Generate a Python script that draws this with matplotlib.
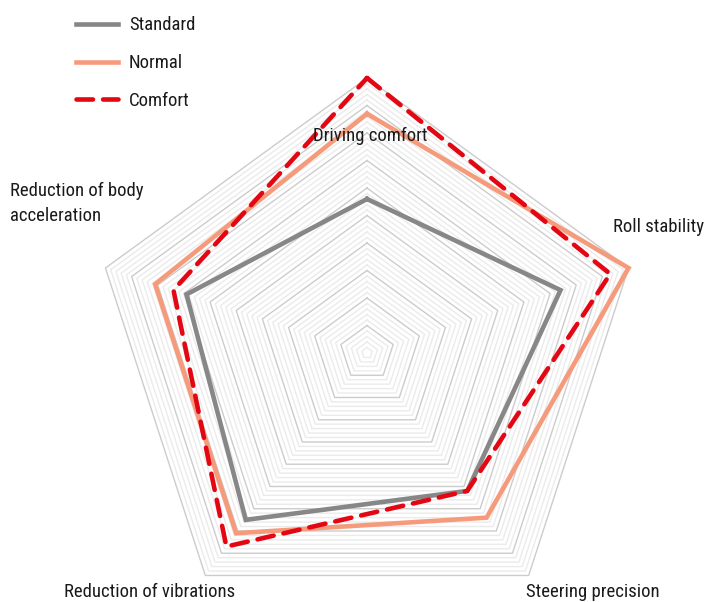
import numpy as np
import matplotlib
matplotlib.use("Agg")
import matplotlib.pyplot as plt
from matplotlib.font_manager import fontManager

categories = ["Driving comfort", "Roll stability", "Steering precision",
              "Reduction of vibrations", "Reduction of body\nacceleration"]
standard = [56, 74, 62, 75, 69]
normal = [87, 100, 74, 81, 81]
comfort = [100, 93, 62, 87, 74]
series_names = ["Standard", "Normal", "Comfort"]

names = {f.name for f in fontManager.ttflist}
stretch_names = {(f.name, f.stretch) for f in fontManager.ttflist}
fam = None
stretch = "normal"
for cand in ["Roboto Condensed", "Liberation Sans Narrow", "Open Sans Condensed",
             "Noto Sans Condensed", "DejaVu Sans Condensed"]:
    if cand in names:
        fam = cand
        break
if fam is None:
    for cand in ["Roboto", "Noto Sans", "Open Sans", "DejaVu Sans"]:
        cond = [st for (nm, st) in stretch_names if nm == cand and st not in ("normal", 500)]
        if cond:
            fam = cand
            stretch = "condensed"
            break
if fam is None:
    fam = "DejaVu Sans"
plt.rcParams["font.family"] = [fam, "DejaVu Sans"]
plt.rcParams["font.stretch"] = stretch

W, H = 706, 602
cx, cy, R = 367, 353, 275  # pixels
fig = plt.figure(figsize=(W / 100, H / 100), dpi=100)
ax = fig.add_axes([0, 0, 1, 1])
s = R / 100.0
ax.set_xlim(-cx / s, (W - cx) / s)
ax.set_ylim(-(H - cy) / s, cy / s)
ax.axis("off")

n = len(categories)
ang = np.deg2rad(90 - 72 * np.arange(n))

def poly(vals):
    v = np.asarray(vals, float)
    x = v * np.cos(ang)
    y = v * np.sin(ang)
    return np.append(x, x[0]), np.append(y, y[0])

# grid
for k in range(1, 51):
    lvl = k * 2
    x, y = poly([lvl] * n)
    dark = (k % 5 == 0)
    ax.plot(x, y, color="#cccccc" if dark else "#ebebeb", lw=1.0, zorder=1)

cols = {"Standard": "#878787", "Normal": "#f59b7c", "Comfort": "#e30613"}
x, y = poly(standard)
ax.plot(x, y, color=cols["Standard"], lw=3.3, zorder=3, label="Standard",
        solid_joinstyle="miter")
x, y = poly(normal)
ax.plot(x, y, color=cols["Normal"], lw=3.3, zorder=3, label="Normal",
        solid_joinstyle="miter")
x, y = poly(comfort)
ax.plot(x, y, color=cols["Comfort"], lw=3.3, zorder=4, label="Comfort",
        dashes=(3.6, 2.2), dash_capstyle="round")

fs = 13.5 if stretch != "normal" or fam != "DejaVu Sans" else 12.5
tc = "#1a1a1a"
def px(xp, yp):
    return (xp - cx) / s, (cy - yp) / s

ax.text(*px(370, 136), categories[0], ha="center", va="center", fontsize=fs, color=tc, zorder=5)
ax.text(*px(704, 227), categories[1], ha="right", va="center", fontsize=fs, color=tc)
ax.text(*px(593, 592), categories[2], ha="center", va="center", fontsize=fs, color=tc)
ax.text(*px(150, 592), categories[3], ha="center", va="center", fontsize=fs, color=tc)
ax.text(*px(10, 203), categories[4], ha="left", va="center", fontsize=fs, color=tc,
        linespacing=1.5)

leg = ax.legend(loc="upper left", bbox_to_anchor=(73 / W - 0.006, 1 - 9 / H),
                frameon=False, fontsize=fs, handlelength=2.2, handletextpad=0.6,
                labelspacing=1.05, borderaxespad=0)
for t in leg.get_texts():
    t.set_color(tc)

fig.savefig("out.png", dpi=100)
